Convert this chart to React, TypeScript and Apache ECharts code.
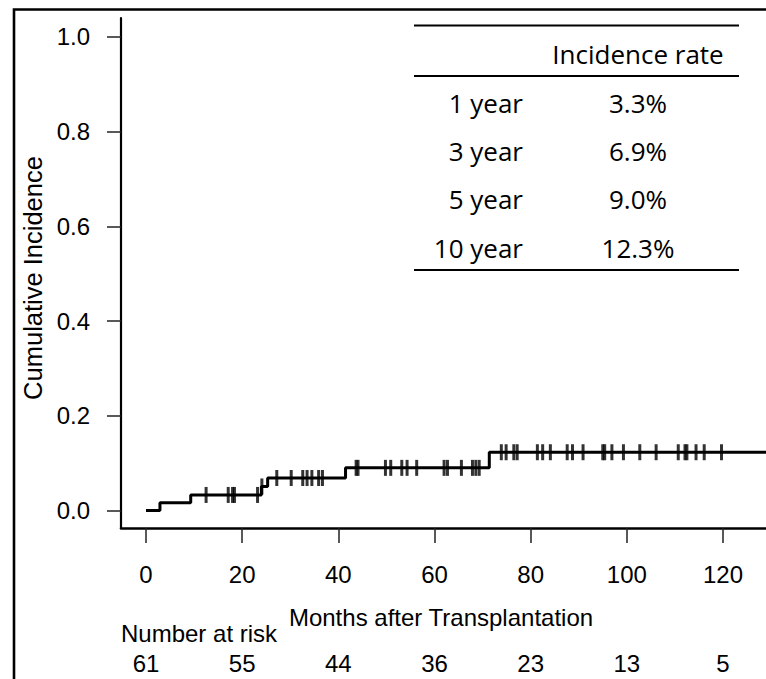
import React, { useEffect, useRef } from "react";
import * as echarts from "echarts";

// ---- data ----
const eventTimes = [0, 2.9, 9.3, 24.0, 25.3, 41.5, 71.4, 128.95];
const cumIncidence = [0, 0.0164, 0.0328, 0.0507, 0.0686, 0.09, 0.123, 0.123];
const censorTimes = [
  12.5, 17.1, 18.0, 18.4, 23.2, 24.1,
  27.2, 30.2, 32.6, 33.5, 34.5, 35.9, 36.7,
  43.7, 44.1, 49.8, 50.9, 53.2, 54.3, 56.3,
  62.0, 62.7, 65.6, 67.9, 68.6, 69.3,
  73.9, 74.9, 76.5, 77.2,
  81.4, 82.5, 84.1, 87.6, 88.7, 90.9, 95.0, 95.4, 96.9, 99.3,
  102.7, 106.1, 110.7, 112.1, 112.5, 114.4, 116.1, 119.7,
];
const xTicks = [0, 20, 40, 60, 80, 100, 120];
const atRisk = [61, 55, 44, 36, 23, 13, 5];
const yTicks = [0, 0.2, 0.4, 0.6, 0.8, 1.0];
const tableYears = ["1 year", "3 year", "5 year", "10 year"];
const tableRates = ["3.3%", "6.9%", "9.0%", "12.3%"];

const R_FONT = '"Liberation Sans", Arial, sans-serif';
const TABLE_FONT = '"Open Sans", "Noto Sans", sans-serif';

function levelAt(t: number): number {
  let v = 0;
  for (let i = 0; i < eventTimes.length; i++) {
    if (eventTimes[i] <= t) v = cumIncidence[i];
  }
  return v;
}

export default function App() {
  const ref = useRef<HTMLDivElement>(null);
  useEffect(() => {
    if (!ref.current) return;
    const chart = echarts.init(ref.current, undefined, { renderer: "svg" });

    const stepData = eventTimes.map((t, i) => [t, cumIncidence[i]]);
    const censorData = censorTimes.map((t) => [t, levelAt(t)]);

    const rowY0 = 102.5;
    const rowStep = 48.4;
    const tableGraphics: any[] = [];
    [25.5, 76, 270].forEach((y) => {
      tableGraphics.push({
        type: "line",
        shape: { x1: 414, y1: y, x2: 739, y2: y },
        style: { stroke: "#000", lineWidth: 1.8 },
      });
    });
    tableGraphics.push({
      type: "text",
      x: 638,
      y: 54,
      style: {
        text: "Incidence rate",
        fontSize: 26,
        fontFamily: TABLE_FONT,
        fill: "#000",
        align: "center",
        verticalAlign: "middle",
      },
    });
    tableYears.forEach((yr, i) => {
      tableGraphics.push({
        type: "text",
        x: 523,
        y: rowY0 + rowStep * i,
        style: {
          text: yr,
          fontSize: 26,
          fontFamily: TABLE_FONT,
          fill: "#000",
          align: "right",
          verticalAlign: "middle",
        },
      });
      tableGraphics.push({
        type: "text",
        x: 638,
        y: rowY0 + rowStep * i,
        style: {
          text: tableRates[i],
          fontSize: 26,
          fontFamily: TABLE_FONT,
          fill: "#000",
          align: "center",
          verticalAlign: "middle",
        },
      });
    });

    chart.setOption({
      animation: false,
      backgroundColor: "#fff",
      grid: { left: 121, right: 0, top: 18, bottom: 151, containLabel: false },
      xAxis: [
        {
          type: "value",
          min: -5.2,
          max: 128.95,
          splitLine: { show: false },
          axisLine: { show: true, onZero: false, lineStyle: { color: "#000", width: 2.6 } },
          axisTick: {
            show: true,
            customValues: xTicks,
            length: 15,
            lineStyle: { color: "#222", width: 1.5 },
          },
          axisLabel: {
            customValues: xTicks,
            margin: 34,
            fontSize: 24,
            fontFamily: R_FONT,
            color: "#000",
            formatter: (v: number) => String(v),
          },
        },
        {
          type: "value",
          position: "bottom",
          offset: 116,
          min: -5.2,
          max: 128.95,
          splitLine: { show: false },
          axisLine: { show: false },
          axisTick: { show: false },
          axisLabel: {
            customValues: xTicks,
            margin: 7,
            fontSize: 24,
            fontFamily: R_FONT,
            color: "#000",
            formatter: (v: number) => {
              const idx = xTicks.indexOf(Math.round(v));
              return idx >= 0 ? String(atRisk[idx]) : "";
            },
          },
        },
      ],
      yAxis: {
        type: "value",
        min: -0.037,
        max: 1.04,
        splitLine: { show: false },
        axisLine: { show: true, onZero: false, lineStyle: { color: "#000", width: 2.2 } },
        axisTick: {
          show: true,
          customValues: yTicks,
          length: 14,
          lineStyle: { color: "#222", width: 1.5 },
        },
        axisLabel: {
          customValues: yTicks,
          margin: 31,
          fontSize: 24,
          fontFamily: R_FONT,
          color: "#000",
          formatter: (v: number) => v.toFixed(1),
        },
      },
      series: [
        {
          type: "line",
          step: "end",
          data: stepData,
          symbol: "none",
          lineStyle: { color: "#000", width: 3 },
          silent: true,
        },
        {
          type: "scatter",
          data: censorData,
          symbol: "rect",
          symbolSize: [3, 16],
          itemStyle: { color: "#000" },
          silent: true,
        },
      ],
      graphic: [
        {
          type: "rect",
          shape: { x: 14, y: 9.5, width: 900, height: 900 },
          style: { fill: "none", stroke: "#000", lineWidth: 2.6 },
          silent: true,
        },
        {
          type: "text",
          x: 33,
          y: 278,
          rotation: Math.PI / 2,
          style: {
            text: "Cumulative Incidence",
            fontSize: 25.5,
            fontFamily: R_FONT,
            fill: "#000",
            align: "center",
            verticalAlign: "middle",
          },
        },
        {
          type: "text",
          x: 441,
          y: 617,
          style: {
            text: "Months after Transplantation",
            fontSize: 24,
            fontFamily: R_FONT,
            fill: "#000",
            align: "center",
            verticalAlign: "middle",
          },
        },
        {
          type: "text",
          x: 121,
          y: 633,
          style: {
            text: "Number at risk",
            fontSize: 24,
            fontFamily: R_FONT,
            fill: "#000",
            align: "left",
            verticalAlign: "middle",
          },
        },
        ...tableGraphics,
      ],
    });
    return () => chart.dispose();
  }, []);

  return (
    <div
      ref={ref}
      style={{ position: "fixed", left: 0, top: 0, width: 766, height: 679, background: "#fff" }}
    />
  );
}
